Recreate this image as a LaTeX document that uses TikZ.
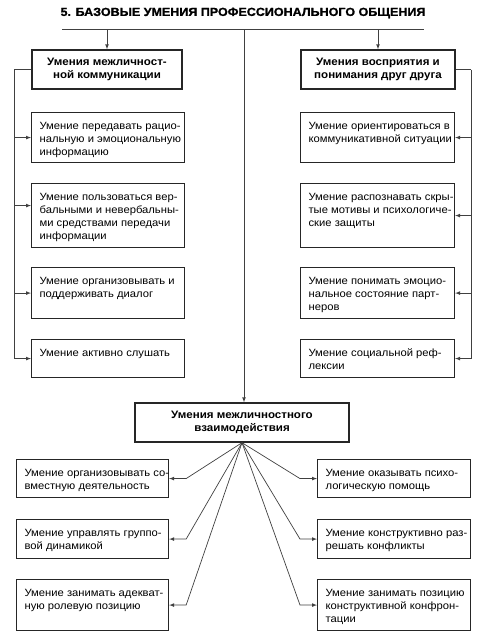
\documentclass[tikz,border=0pt]{standalone}
\usepackage{fontspec}
\setmainfont{Liberation Sans}[FakeStretch=1.07]
\newfontfamily\titlefont{Liberation Sans}[FakeStretch=1.07,FakeBold=1.2]
\usetikzlibrary{calc,arrows,positioning}
\newcommand{\skilltext}[3]{\parbox[c][#2][t]{#1}{\raggedright\leftskip=8pt\rightskip=-12pt plus 1fil\rule{0pt}{16.5pt}#3}}
\tikzset{
  skill/.style={draw=black!85, line width=1.15pt, inner sep=0pt, anchor=north west,
    font=\fontsize{10.5}{13}\selectfont},
  head/.style={draw=black!85, line width=1.4pt, inner sep=0pt, align=center,
    font=\fontsize{10.8}{13.5}\selectfont\bfseries},
  link/.style={draw=black!75, line width=0.7pt},
  arr/.style={link,-latex}
}
\begin{document}
\begin{tikzpicture}[x=1pt,y=-1pt]
\useasboundingbox (0,0) rectangle (503,637);

\node (title) at (243,13) {\titlefont\fontsize{11.7}{13}\selectfont\bfseries 5. БАЗОВЫЕ УМЕНИЯ ПРОФЕССИОНАЛЬНОГО ОБЩЕНИЯ};
\coordinate (tl) at (62,29);
\coordinate (tr) at (424,29);
\coordinate (mid) at (244,29);
\draw[link] (tl) -- (tr);

\node[head,minimum width=150,minimum height=39] (lh) at (107,69.5) {Умения межличност-\\ной коммуникации};
\node[head,minimum width=154,minimum height=39] (rh) at (378,69.5) {Умения восприятия и\\понимания друг друга};
\draw[arr] (lh |- tl) -- (lh.north);
\draw[arr] (rh |- tl) -- (rh.north);

\node[skill] (l1) at (31,112) {\skilltext{153pt}{50pt}{Умение передавать рацио-\\нальную и эмоциональную\\информацию}};
\node[skill] (l2) at (31,183) {\skilltext{153pt}{64pt}{Умение пользоваться вер-\\бальными и невербальны-\\ми средствами передачи\\информации}};
\node[skill] (l3) at (31,267) {\skilltext{153pt}{51pt}{Умение организовывать и\\поддерживать диалог}};
\node[skill] (l4) at (31,339) {\skilltext{153pt}{38pt}{Умение активно слушать}};

\node[skill] (r1) at (300,112) {\skilltext{154pt}{50pt}{Умение ориентироваться в\\коммуникативной ситуации}};
\node[skill] (r2) at (300,183) {\skilltext{154pt}{64pt}{Умение распознавать скры-\\тые мотивы и психологиче-\\ские защиты}};
\node[skill] (r3) at (300,267) {\skilltext{154pt}{51pt}{Умение понимать эмоцио-\\нальное состояние парт-\\неров}};
\node[skill] (r4) at (300,339) {\skilltext{154pt}{38pt}{Умение социальной реф-\\лексии}};

\coordinate (lbus) at (14,69.5);
\coordinate (rbus) at (471,69.5);
\coordinate (l2in) at ([yshift=10pt]l2.west);
\draw[link] (lh.west) -- (lbus);
\draw[arr] (lbus) |- (l4.west);
\draw[arr] (lbus |- l1.west) -- (l1.west);
\draw[arr] (lbus |- l2in) -- (l2in);
\draw[arr] (lbus |- l3.west) -- (l3.west);
\draw[link] (rh.east) -- (rbus);
\draw[arr] (rbus) |- (r4.east);
\foreach \n in {r1,r2,r3}
  \draw[arr] (rbus |- \n.east) -- (\n.east);

\node[head,minimum width=214,minimum height=39] (ih) at (242,422.5) {Умения межличностного\\взаимодействия};
\draw[arr] (mid) -- (mid |- ih.north);

\node[skill] (b1) at (16,459) {\skilltext{152pt}{38pt}{Умение организовывать со-\\вместную деятельность}};
\node[skill] (b2) at (16,519) {\skilltext{152pt}{39pt}{Умение управлять группо-\\вой динамикой}};
\node[skill] (b3) at (16,579) {\skilltext{152pt}{51pt}{Умение занимать адекват-\\ную ролевую позицию}};
\node[skill] (c1) at (317,459) {\skilltext{153pt}{38pt}{Умение оказывать психо-\\логическую помощь}};
\node[skill] (c2) at (317,519) {\skilltext{153pt}{39pt}{Умение конструктивно раз-\\решать конфликты}};
\node[skill] (c3) at (317,579) {\skilltext{153pt}{51pt}{Умение занимать позицию\\конструктивной конфрон-\\тации}};

\foreach \n in {b1,b2,b3}
  \draw[arr] (ih.south) -- ($(\n.east)+(17,0)$) -- (\n.east);
\foreach \n in {c1,c2,c3}
  \draw[arr] (ih.south) -- ($(\n.west)+(-17,0)$) -- (\n.west);
\end{tikzpicture}
\end{document}
